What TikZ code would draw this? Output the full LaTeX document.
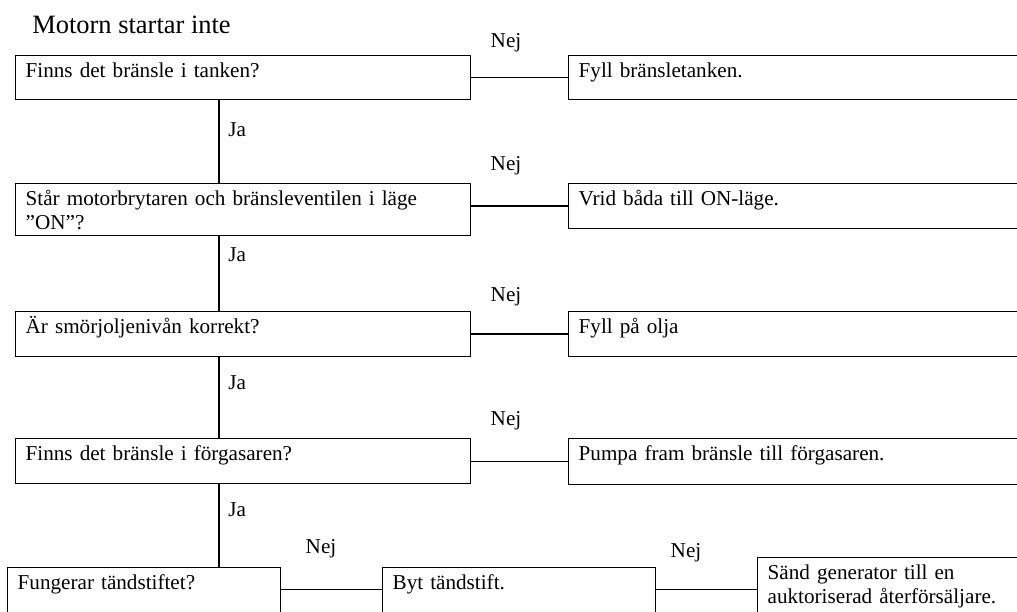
\documentclass[tikz,border=0pt]{standalone}
\usepackage{fontspec}
\setmainfont{Liberation Serif}
\usepackage{tikz}

\tikzset{
  box/.style={draw, line width=0.7pt, anchor=north west, align=left,
    inner xsep=5.7pt, inner ysep=0pt, text height=12.2pt, text depth=#1},
  box/.default=13.3pt,
  lbl/.style={inner sep=0pt, anchor=base},
}

\begin{document}
\begin{tikzpicture}[x=0.567pt,y=-0.567pt,font=\fontsize{12}{13.8}\selectfont]
  \useasboundingbox (0,0) rectangle (1017,612);
  \node[lbl, anchor=base west, font=\fontsize{15}{18}\selectfont] (title) at (32,33) {Motorn startar inte};
  % questions
  \node[box=12.75pt, text width=246.6pt] (q1) at (15,55) {Finns det bränsle i tanken?};
  \node[box=17.3pt, text width=246.6pt] (q2) at (15,183) {Står motorbrytaren och bränsleventilen i läge\\”ON”?};
  \node[box, text width=246.6pt] (q3) at (15,311) {Är smörjoljenivån korrekt?};
  \node[box, text width=246.6pt] (q4) at (15,438) {Finns det bränsle i förgasaren?};
  \node[box=21.8pt, text width=143.2pt] (q5) at (7,567) {Fungerar tändstiftet?};
  % actions
  \node[box=12.75pt, text width=256pt] (a1) at (568,55) {Fyll bränsletanken.};
  \node[box, text width=256pt] (a2) at (568,183) {Vrid båda till ON-läge.};
  \node[box, text width=256pt] (a3) at (568,311) {Fyll på olja};
  \node[box=13.9pt, text width=256pt] (a4) at (568,438) {Pumpa fram bränsle till förgasaren.};
  \node[box=21.8pt, text width=143.2pt] (a5) at (382,567) {Byt tändstift.};
  \node[box=21.8pt, text width=149pt] (a6) at (757,557) {Sänd generator till en\\auktoriserad återförsäljare.};
  % connectors
  \coordinate (spine) at (219,0);
  \foreach \a/\b in {q1/q2,q2/q3,q3/q4,q4/q5}
    \draw[line width=0.7pt] (\a.south -| spine) -- (\b.north -| spine);
  \foreach \i in {1,...,4}
    \draw[line width=0.7pt] (a\i.west -| q\i.east) -- (a\i.west);
  \draw[line width=0.7pt] (q5.base east) -- (a5.base west);
  \draw[line width=0.7pt] (a5.base east) -- (a5.base east -| a6.west);
  % labels
  \node[lbl] (n1) at (506,47) {Nej};
  \node[lbl] (n2) at (506,170) {Nej};
  \node[lbl] (n3) at (506,301) {Nej};
  \node[lbl] (n4) at (506,425) {Nej};
  \node[lbl] (n5) at (321,553) {Nej};
  \node[lbl] (n6) at (686,557) {Nej};
  \node[lbl, anchor=base west] (j1) at (228,136) {Ja};
  \node[lbl, anchor=base west] (j2) at (228,261) {Ja};
  \node[lbl, anchor=base west] (j3) at (228,389) {Ja};
  \node[lbl, anchor=base west] (j4) at (228,516) {Ja};
\end{tikzpicture}
\end{document}
